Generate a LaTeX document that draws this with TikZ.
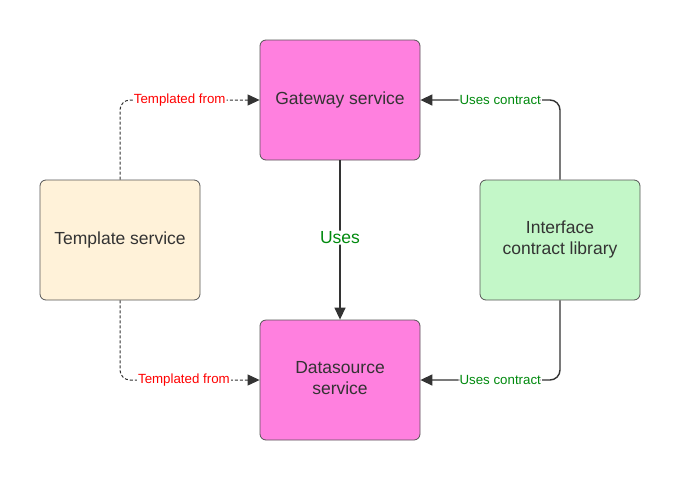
\documentclass[tikz,border=0pt]{standalone}
\usepackage{fontspec}
\setmainfont{Liberation Sans}
\usetikzlibrary{arrows.meta}
\definecolor{pinkfill}{HTML}{FF80DF}
\definecolor{creamfill}{HTML}{FFF2D9}
\definecolor{greenfill}{HTML}{C3F7C8}
\definecolor{edgegray}{HTML}{555555}
\definecolor{txt}{HTML}{333333}
\definecolor{lblred}{HTML}{FF0000}
\definecolor{lblgreen}{HTML}{008A0E}
\definecolor{linegray}{HTML}{333333}
\tikzset{
  box/.style={draw=edgegray, line width=0.8pt, rounded corners=6pt, minimum width=160pt, minimum height=120pt, inner sep=0pt, text=txt, align=center, font=\fontsize{17.5}{21}\selectfont},
  conn/.style={draw=linegray, line width=1.4pt, rounded corners=10pt, -{Triangle[length=12pt,width=11pt]}},
  dashconn/.style={conn, dashed, line width=1pt, dash pattern=on 3pt off 2pt},
  lbl/.style={fill=white, inner sep=1pt, font=\fontsize{13.3}{15}\selectfont},
}
\newcommand{\twoline}[2]{\raisebox{2pt}{\begin{tabular}{@{}c@{}}#1\\#2\end{tabular}}}
\begin{document}
\begin{tikzpicture}[x=1pt,y=-1pt]
\useasboundingbox (0,0) rectangle (680,480);
\node[box, fill=pinkfill] (gw) at (340,100) {\raisebox{2pt}{Gateway service}};
\node[box, fill=pinkfill] (ds) at (340,380) {\twoline{Datasource}{service}};
\node[box, fill=creamfill] (tp) at (120,240) {\raisebox{2pt}{Template service}};
\node[box, fill=greenfill] (ic) at (560,240) {\twoline{Interface}{contract library}};
\draw[dashconn] (tp.north) |- node[lbl, text=lblred, pos=0.714] {Templated from} (gw.west);
\draw[dashconn] (tp.south) |- node[lbl, text=lblred, pos=0.729] {Templated from} (ds.west);
\draw[conn] (ic.north) |- node[lbl, text=lblgreen, pos=0.714] {Uses contract} (gw.east);
\draw[conn] (ic.south) |- node[lbl, text=lblgreen, pos=0.714] {Uses contract} (ds.east);
\draw[conn] (gw.south) -- node[lbl, text=lblgreen, font=\fontsize{17.5}{20}\selectfont, pos=0.485] {Uses} (ds.north);
\end{tikzpicture}
\end{document}
